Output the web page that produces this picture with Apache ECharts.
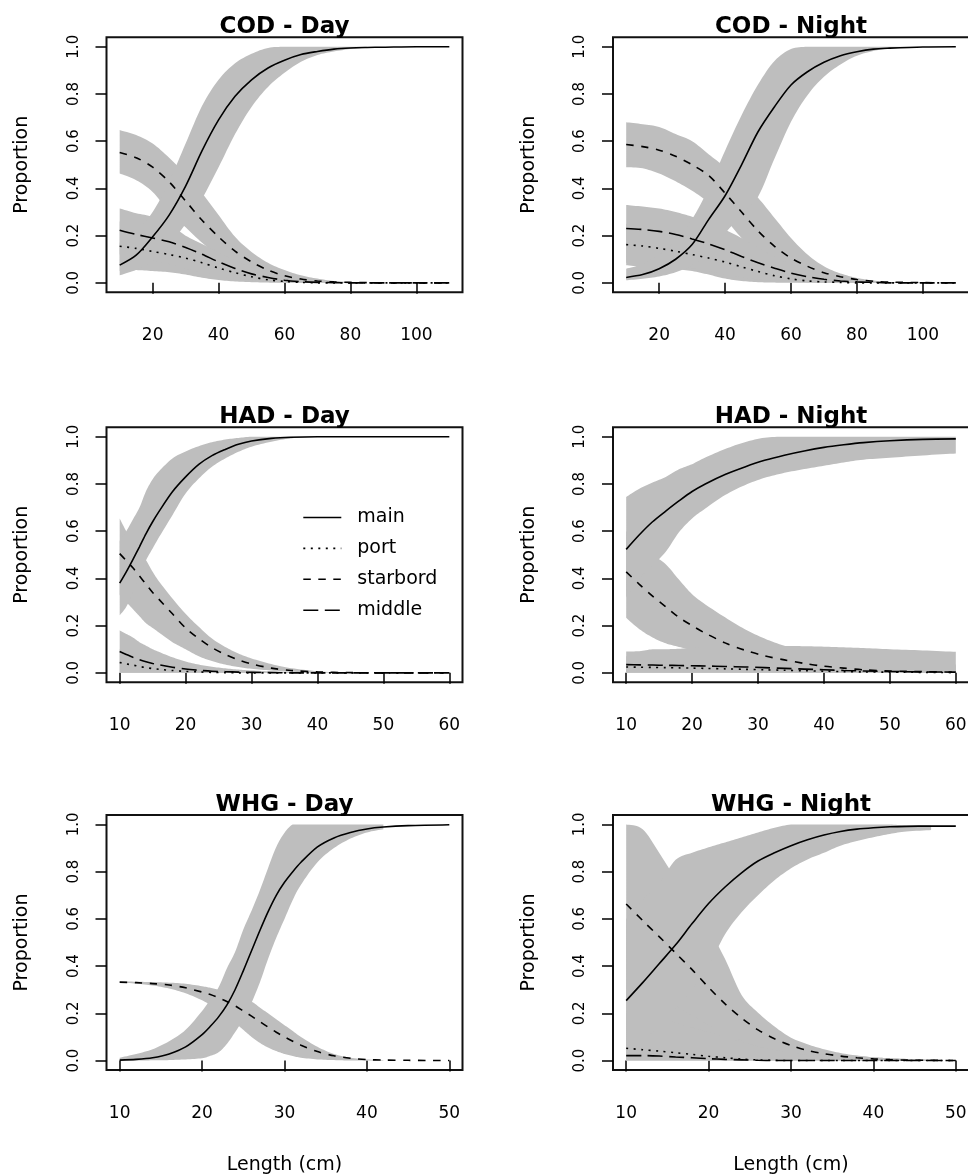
<!DOCTYPE html>
<html><head><meta charset="utf-8">
<script src="https://cdn.jsdelivr.net/npm/echarts@6/dist/echarts.min.js"></script>
<style>html,body{margin:0;padding:0;background:#fff}#c{width:968px;height:1176px}</style>
</head><body><div id="c"></div>
<script>
// ---------- tick labels ----------
const propTicks = [0, 0.2, 0.4, 0.6, 0.8, 1.0];
const codTicks = [20, 40, 60, 80, 100];
const hadTicks = [10, 20, 30, 40, 50, 60];
const whgTicks = [10, 20, 30, 40, 50];
const legendNames = ['main', 'port', 'starbord', 'middle'];
const titles = ['COD - Day', 'COD - Night', 'HAD - Day', 'HAD - Night', 'WHG - Day', 'WHG - Night'];

// ---------- COD ----------
const codX = [10,15,20,25,30,35,40,45,50,55,60,65,70,75,80,85,90,100,110];
const codDayMain = [0.075,0.117,0.195,0.287,0.41,0.56,0.69,0.79,0.86,0.91,0.943,0.967,0.98,0.99,0.995,0.997,0.998,1.0,1.0];
const codDayPort = [0.155,0.146,0.133,0.12,0.105,0.085,0.063,0.043,0.026,0.013,0.006,0.002,0,0,0,0,0,0,0];
const codDayStar = [0.552,0.53,0.49,0.428,0.347,0.265,0.195,0.134,0.089,0.054,0.03,0.016,0.008,0.004,0.002,0.001,0,0,0];
const codDayMid  = [0.223,0.205,0.19,0.174,0.15,0.121,0.089,0.061,0.038,0.023,0.011,0.005,0.002,0.001,0,0,0,0,0];
const codDayBandX = [10,15,20,25,30,35,40,45,50,55,60,65,70,75,80,85];
const codDayMainLo = [0.032,0.055,0.09,0.16,0.25,0.357,0.49,0.63,0.745,0.83,0.89,0.936,0.965,0.98,0.99,0.996];
const codDayMainHi = [0.17,0.22,0.3,0.43,0.59,0.75,0.86,0.93,0.97,0.995,1,1,1,1,1,1];
const codDayPortLo = [0.05,0.054,0.05,0.045,0.035,0.022,0.012,0.006,0.003,0.001,0,0,0,0,0,0];
const codDayPortHi = [0.26,0.25,0.23,0.21,0.18,0.15,0.115,0.08,0.05,0.03,0.015,0.007,0.003,0.001,0,0];
const codDayStarLo = [0.463,0.435,0.385,0.30,0.235,0.17,0.115,0.075,0.045,0.025,0.012,0.005,0.002,0,0,0];
const codDayStarHi = [0.647,0.626,0.59,0.53,0.46,0.38,0.287,0.195,0.131,0.085,0.054,0.032,0.018,0.008,0.004,0.002];
const codDayMidLo  = [0.12,0.11,0.095,0.08,0.06,0.045,0.03,0.018,0.01,0.005,0.002,0,0,0,0,0];
const codDayMidHi  = [0.315,0.295,0.28,0.25,0.2,0.165,0.13,0.095,0.065,0.04,0.022,0.012,0.006,0.003,0.001,0];

const codNightMain = [0.023,0.035,0.06,0.10,0.162,0.268,0.369,0.5,0.64,0.746,0.838,0.894,0.934,0.962,0.979,0.99,0.994,0.999,1.0];
const codNightPort = [0.162,0.156,0.146,0.134,0.12,0.105,0.088,0.068,0.048,0.03,0.017,0.008,0.004,0.002,0,0,0,0,0];
const codNightStar = [0.586,0.577,0.562,0.536,0.50,0.455,0.38,0.30,0.22,0.155,0.105,0.07,0.043,0.026,0.014,0.007,0.003,0.001,0];
const codNightMid  = [0.23,0.226,0.218,0.205,0.186,0.165,0.14,0.112,0.085,0.062,0.041,0.026,0.015,0.008,0.004,0.002,0,0,0];
const codNightBandX = [10,15,20,25,30,35,40,45,50,55,60,65,70,75,80,85,90,100];
const codNightMainLo = [0.011,0.017,0.027,0.045,0.075,0.13,0.21,0.29,0.365,0.527,0.682,0.795,0.873,0.925,0.962,0.982,0.993,1.0];
const codNightMainHi = [0.06,0.08,0.12,0.18,0.27,0.4,0.56,0.71,0.84,0.94,0.99,1,1,1,1,1,1,1];
const codNightPortLo = [0.075,0.068,0.062,0.058,0.05,0.035,0.018,0.008,0.003,0.001,0,0,0,0,0,0,0,0];
const codNightPortHi = [0.25,0.245,0.235,0.22,0.2,0.18,0.155,0.125,0.095,0.065,0.04,0.022,0.012,0.006,0.003,0.001,0,0];
const codNightStarLo = [0.49,0.485,0.463,0.43,0.39,0.34,0.27,0.19,0.12,0.07,0.04,0.02,0.01,0.005,0.002,0,0,0];
const codNightStarHi = [0.68,0.672,0.66,0.63,0.6,0.545,0.49,0.43,0.36,0.275,0.19,0.12,0.07,0.04,0.021,0.01,0.004,0.001];
const codNightMidLo  = [0.085,0.08,0.075,0.07,0.062,0.05,0.036,0.024,0.014,0.008,0.004,0.002,0,0,0,0,0,0];
const codNightMidHi  = [0.33,0.323,0.315,0.3,0.28,0.255,0.225,0.19,0.15,0.11,0.08,0.055,0.035,0.02,0.012,0.006,0.003,0.001];

// ---------- HAD ----------
const hadDayX = [10,11,12,13,14,15,16,18,20,22,24,26,28,30,33,36,40,45,50,55,60];
const hadDayMain = [0.38,0.428,0.48,0.534,0.59,0.64,0.685,0.767,0.83,0.883,0.92,0.946,0.968,0.982,0.993,0.998,1,1,1,1,1];
const hadDayPort = [0.044,0.038,0.033,0.027,0.022,0.018,0.015,0.01,0.006,0.004,0.002,0.001,0,0,0,0,0,0,0,0,0];
const hadDayStar = [0.505,0.475,0.445,0.41,0.375,0.34,0.31,0.25,0.19,0.145,0.107,0.078,0.055,0.038,0.02,0.01,0.004,0.001,0,0,0];
const hadDayMid  = [0.09,0.078,0.066,0.056,0.047,0.04,0.034,0.024,0.016,0.011,0.007,0.005,0.003,0.002,0.001,0,0,0,0,0,0];
const hadDayBandX = [10,11,12,13,14,15,16,18,20,22,24,26,28,30,33,36,40,44];
const hadDayMainLo = [0.244,0.28,0.34,0.41,0.477,0.527,0.576,0.668,0.76,0.823,0.873,0.908,0.936,0.958,0.979,0.993,0.999,1];
const hadDayMainHi = [0.56,0.6,0.65,0.7,0.77,0.82,0.855,0.908,0.938,0.96,0.977,0.988,0.995,1,1,1,1,1];
const hadDayPortLo = [0,0,0,0,0,0,0,0,0,0,0,0,0,0,0,0,0,0];
const hadDayPortHi = [0.1,0.09,0.08,0.07,0.06,0.05,0.043,0.032,0.022,0.015,0.01,0.007,0.005,0.003,0.002,0.001,0,0];
const hadDayStarLo = [0.33,0.3,0.27,0.24,0.21,0.19,0.17,0.13,0.1,0.07,0.05,0.035,0.025,0.017,0.01,0.005,0.002,0];
const hadDayStarHi = [0.654,0.6,0.56,0.52,0.477,0.428,0.386,0.315,0.25,0.195,0.145,0.11,0.082,0.061,0.037,0.02,0.007,0.001];
const hadDayMidLo  = [0,0,0,0,0,0,0,0,0,0,0,0,0,0,0,0,0,0];
const hadDayMidHi  = [0.18,0.165,0.15,0.13,0.115,0.1,0.088,0.066,0.048,0.035,0.026,0.019,0.014,0.01,0.006,0.004,0.002,0];

const hadNightX = [10,12,14,16,18,20,22,25,28,31,34,37,40,43,46,50,55,60];
const hadNightMain = [0.523,0.585,0.64,0.685,0.728,0.768,0.8,0.84,0.872,0.9,0.922,0.94,0.955,0.966,0.975,0.983,0.989,0.991];
const hadNightPort = [0.025,0.024,0.023,0.022,0.021,0.02,0.019,0.017,0.015,0.013,0.011,0.009,0.007,0.005,0.004,0.003,0.002,0.001];
const hadNightStar = [0.428,0.375,0.325,0.28,0.235,0.2,0.168,0.127,0.096,0.072,0.055,0.04,0.028,0.02,0.013,0.008,0.005,0.003];
const hadNightMid  = [0.035,0.034,0.033,0.032,0.031,0.03,0.029,0.027,0.025,0.022,0.019,0.016,0.013,0.01,0.008,0.006,0.004,0.003];
const hadNightMainLo = [0.32,0.4,0.455,0.513,0.595,0.654,0.696,0.753,0.795,0.826,0.847,0.863,0.877,0.891,0.903,0.911,0.921,0.929];
const hadNightMainHi = [0.745,0.78,0.806,0.83,0.862,0.884,0.912,0.948,0.977,0.996,1,1,1,1,1,1,1,1];
const hadNightPortLo = [0,0,0,0,0,0,0,0,0,0,0,0,0,0,0,0,0,0];
const hadNightPortHi = [0.07,0.07,0.07,0.07,0.068,0.066,0.064,0.06,0.056,0.052,0.048,0.045,0.042,0.04,0.038,0.035,0.032,0.03];
const hadNightStarLo = [0.233,0.185,0.15,0.125,0.11,0.095,0.08,0.062,0.047,0.035,0.025,0.018,0.012,0.008,0.005,0.003,0.001,0];
const hadNightStarHi = [0.6,0.55,0.5,0.46,0.395,0.333,0.29,0.235,0.185,0.145,0.115,0.095,0.08,0.07,0.06,0.05,0.04,0.035];
const hadNightMidLo  = [0,0,0,0,0,0,0,0,0,0,0,0,0,0,0,0,0,0];
const hadNightMidHi  = [0.09,0.092,0.1,0.1,0.102,0.105,0.108,0.11,0.112,0.114,0.114,0.113,0.111,0.108,0.105,0.1,0.095,0.089];

// ---------- WHG ----------
const whgDayX = [10,12,14,16,18,20,21,22,23,24,25,26,27,28,29,30,31,32,34,36,38,40,42,45,50];
const whgDayMain = [0.002,0.005,0.012,0.028,0.058,0.11,0.145,0.185,0.235,0.3,0.38,0.465,0.55,0.63,0.7,0.755,0.8,0.84,0.905,0.943,0.966,0.981,0.989,0.995,0.999];
const whgDayStar = [0.332,0.33,0.326,0.32,0.308,0.29,0.28,0.266,0.25,0.232,0.21,0.188,0.165,0.142,0.12,0.1,0.082,0.065,0.038,0.02,0.01,0.004,0.002,0.001,0];
const whgDayBandX = [10,12,14,16,18,20,21,22,23,24,25,26,27,28,29,30,31,32,34,36,38,40,42];
const whgDayMainLo = [0,0,0.001,0.002,0.005,0.01,0.02,0.035,0.07,0.12,0.175,0.245,0.33,0.43,0.52,0.6,0.68,0.745,0.84,0.9,0.94,0.966,0.98];
const whgDayMainHi = [0.012,0.028,0.048,0.082,0.13,0.21,0.26,0.31,0.39,0.46,0.555,0.635,0.72,0.815,0.905,0.965,1,1,1,1,1,1,1];
const whgDayStarLo = [0.33,0.326,0.318,0.305,0.285,0.255,0.235,0.21,0.185,0.16,0.13,0.1,0.075,0.055,0.04,0.028,0.019,0.012,0.005,0.002,0,0,0];
const whgDayStarHi = [0.335,0.334,0.332,0.33,0.325,0.315,0.308,0.3,0.29,0.28,0.265,0.25,0.225,0.2,0.175,0.15,0.125,0.1,0.058,0.028,0.012,0.005,0.002];

const whgNightX = [10,12,14,16,18,20,22,24,26,28,30,32,34,36,38,40,42,44,47,50];
const whgNightMain = [0.254,0.33,0.41,0.49,0.58,0.665,0.735,0.795,0.845,0.88,0.91,0.935,0.955,0.97,0.98,0.986,0.99,0.992,0.993,0.993];
const whgNightPort = [0.052,0.046,0.04,0.033,0.026,0.018,0.012,0.006,0.003,0.001,0,0,0,0,0,0,0,0,0,0];
const whgNightStar = [0.663,0.593,0.525,0.455,0.385,0.31,0.24,0.18,0.13,0.092,0.064,0.043,0.029,0.019,0.012,0.007,0.004,0.002,0.001,0];
const whgNightMid  = [0.021,0.021,0.019,0.015,0.012,0.008,0.005,0.003,0.001,0,0,0,0,0,0,0,0,0,0,0];
const whgNightBandX = [10,12,14,16,18,20,22,24,26,28,30,32,34,36,38,40,42,44,47];
const whgNightMainLo = [0.03,0.08,0.15,0.22,0.3,0.4,0.535,0.628,0.7,0.764,0.814,0.852,0.88,0.91,0.93,0.946,0.96,0.97,0.976];
const whgNightMainHi = [0.6,0.68,0.75,0.85,0.88,0.903,0.924,0.945,0.966,0.986,1,1,1,1,1,1,1,0.996,0.995];
const whgNightPortLo = [0,0,0,0,0,0,0,0,0,0,0,0,0,0,0,0,0,0,0];
const whgNightPortHi = [0.3,0.3,0.3,0.28,0.26,0.25,0.21,0.17,0.13,0.1,0.075,0.055,0.04,0.028,0.02,0.014,0.01,0.007,0.004];
const whgNightStarLo = [0.3,0.28,0.26,0.23,0.19,0.15,0.115,0.085,0.06,0.042,0.028,0.019,0.012,0.008,0.005,0.003,0.002,0.001,0];
const whgNightStarHi = [1,0.98,0.88,0.77,0.67,0.56,0.43,0.278,0.203,0.144,0.097,0.069,0.048,0.032,0.021,0.014,0.01,0.007,0.003];
const whgNightMidLo  = [0,0,0,0,0,0,0,0,0,0,0,0,0,0,0,0,0,0,0];
const whgNightMidHi  = [0.2,0.19,0.18,0.16,0.14,0.12,0.1,0.08,0.06,0.045,0.033,0.024,0.017,0.012,0.008,0.006,0.004,0.003,0.002];

// ---------- assemble ----------
const panels = [
  {x: codX, ticks: codTicks, xr: [6, 114],
   lines: {main: codDayMain, port: codDayPort, starbord: codDayStar, middle: codDayMid},
   bx: codDayBandX,
   bands: [[codDayPortLo, codDayPortHi], [codDayStarLo, codDayStarHi], [codDayMidLo, codDayMidHi], [codDayMainLo, codDayMainHi]]},
  {x: codX, ticks: codTicks, xr: [6, 114],
   lines: {main: codNightMain, port: codNightPort, starbord: codNightStar, middle: codNightMid},
   bx: codNightBandX,
   bands: [[codNightPortLo, codNightPortHi], [codNightStarLo, codNightStarHi], [codNightMidLo, codNightMidHi], [codNightMainLo, codNightMainHi]]},
  {x: hadDayX, ticks: hadTicks, xr: [8, 62],
   lines: {main: hadDayMain, port: hadDayPort, starbord: hadDayStar, middle: hadDayMid},
   bx: hadDayBandX,
   bands: [[hadDayPortLo, hadDayPortHi], [hadDayStarLo, hadDayStarHi], [hadDayMidLo, hadDayMidHi], [hadDayMainLo, hadDayMainHi]]},
  {x: hadNightX, ticks: hadTicks, xr: [8, 62],
   lines: {main: hadNightMain, port: hadNightPort, starbord: hadNightStar, middle: hadNightMid},
   bx: hadNightX,
   bands: [[hadNightPortLo, hadNightPortHi], [hadNightStarLo, hadNightStarHi], [hadNightMidLo, hadNightMidHi], [hadNightMainLo, hadNightMainHi]]},
  {x: whgDayX, ticks: whgTicks, xr: [8.4, 51.6],
   lines: {main: whgDayMain, starbord: whgDayStar},
   bx: whgDayBandX,
   bands: [[whgDayStarLo, whgDayStarHi], [whgDayMainLo, whgDayMainHi]]},
  {x: whgNightX, ticks: whgTicks, xr: [8.4, 51.6],
   lines: {main: whgNightMain, port: whgNightPort, starbord: whgNightStar, middle: whgNightMid},
   bx: whgNightBandX,
   bands: [[whgNightPortLo, whgNightPortHi], [whgNightStarLo, whgNightStarHi], [whgNightMidLo, whgNightMidHi], [whgNightMainLo, whgNightMainHi]]}
];

const FONT = 'DejaVu Sans';
const GRID_W = 356, GRID_H = 255;
const colLeft = [106.5, 613];
const rowTop = [37.3, 427.3, 815];
const lineTypes = {main: 'solid', port: [2, 5.5], starbord: [7.5, 7.5], middle: [15, 6.5]};
const GREY = '#bebebe';

// smooth pixel path through points (Catmull-Rom, overshoot clamped), sampled for a polygon
function smoothPts(p) {
  const out = [p[0]];
  for (let k = 0; k < p.length - 1; k++) {
    const p0 = p[k - 1] || p[k], p1 = p[k], p2 = p[k + 1], p3 = p[k + 2] || p2;
    const c1x = p1[0] + (p2[0] - p0[0]) / 6;
    let c1y = p1[1] + (p2[1] - p0[1]) / 6;
    const c2x = p2[0] - (p3[0] - p1[0]) / 6;
    let c2y = p2[1] - (p3[1] - p1[1]) / 6;
    const mn = Math.min(p1[1], p2[1]), mx = Math.max(p1[1], p2[1]);
    c1y = Math.min(mx, Math.max(mn, c1y));
    c2y = Math.min(mx, Math.max(mn, c2y));
    for (let s = 1; s <= 8; s++) {
      const t = s / 8, u = 1 - t;
      out.push([
        u*u*u*p1[0] + 3*u*u*t*c1x + 3*u*t*t*c2x + t*t*t*p2[0],
        u*u*u*p1[1] + 3*u*u*t*c1y + 3*u*t*t*c2y + t*t*t*p2[1]
      ]);
    }
  }
  return out;
}

function bandSeries(i, bx, lo, hi) {
  return {
    type: 'custom', xAxisIndex: i, yAxisIndex: i, silent: true, z: 1,
    data: bx.map((x, j) => [x, lo[j], hi[j]]),
    encode: {x: 0, y: [1, 2]},
    renderItem: function (params, api) {
      if (params.dataIndex !== 0) return null;
      const top = smoothPts(bx.map((x, j) => api.coord([x, hi[j]])));
      const bot = smoothPts(bx.map((x, j) => api.coord([x, lo[j]]))).reverse();
      return {type: 'polygon', shape: {points: top.concat(bot)},
        style: {fill: GREY, stroke: null, lineWidth: 0}};
    }
  };
}

const grid = [], xAxis = [], yAxis = [], title = [], series = [];
panels.forEach((p, i) => {
  const col = i % 2, row = Math.floor(i / 2);
  const left = colLeft[col], top = rowTop[row];
  grid.push({left: left, top: top, width: GRID_W, height: GRID_H, show: true,
    borderColor: '#111', borderWidth: 2, backgroundColor: 'transparent',
    containLabel: false, outerBoundsMode: 'none'});
  title.push({text: titles[i], left: left + GRID_W / 2, top: top - 21.5, textAlign: 'center', padding: 0,
    textStyle: {fontFamily: FONT, fontSize: 23, fontWeight: 'bold', color: '#000'}});
  xAxis.push({type: 'value', gridIndex: i, min: p.xr[0], max: p.xr[1],
    axisLine: {show: false}, splitLine: {show: false},
    axisTick: {show: true, inside: false, length: 11, customValues: p.ticks, lineStyle: {color: '#000', width: 1.5}},
    axisLabel: {show: true, customValues: p.ticks, margin: 35, color: '#000', fontFamily: FONT, fontSize: 17,
      hideOverlap: false},
    name: row === 2 ? 'Length (cm)' : '', nameLocation: 'middle', nameGap: 86, nameMoveOverlap: false,
    nameTextStyle: {fontFamily: FONT, fontSize: 19, color: '#000'}});
  yAxis.push({type: 'value', gridIndex: i, min: -0.04, max: 1.04,
    axisLine: {show: false}, splitLine: {show: false},
    axisTick: {show: true, inside: false, length: 11, customValues: propTicks, lineStyle: {color: '#000', width: 1.5}},
    axisLabel: {show: true, customValues: propTicks, rotate: 90, margin: 25, color: '#000',
      fontFamily: FONT, fontSize: 15, formatter: v => Number(v).toFixed(1)},
    name: 'Proportion', nameLocation: 'middle', nameGap: 74.5, nameRotate: 90, nameMoveOverlap: false,
    nameTextStyle: {fontFamily: FONT, fontSize: 19, color: '#000'}});

  p.bands.forEach(b => series.push(bandSeries(i, p.bx, b[0], b[1])));
  legendNames.forEach(nm => {
    const arr = p.lines[nm];
    if (!arr) return;
    series.push({type: 'line', name: nm, xAxisIndex: i, yAxisIndex: i, symbol: 'none',
      smooth: 0.3, z: 3, lineStyle: {color: '#000', width: 1.6, type: lineTypes[nm]},
      itemStyle: {color: '#000'},
      data: p.x.map((x, j) => [x, arr[j]])});
  });
});

const chart = echarts.init(document.getElementById('c'), null, {renderer: 'canvas'});
chart.setOption({
  backgroundColor: '#fff',
  animation: false,
  title: title,
  grid: grid,
  xAxis: xAxis,
  yAxis: yAxis,
  legend: {data: legendNames, orient: 'vertical', left: 302.5, top: 508, padding: 0,
    itemWidth: 38, itemHeight: 20, itemGap: 11.9,
    lineStyle: {width: 1.6},
    itemStyle: {opacity: 0, color: 'rgba(0,0,0,0)', borderWidth: 0},
    textStyle: {fontFamily: FONT, fontSize: 19, color: '#000', padding: [0, 0, 0, 11]}},
  series: series
});
</script></body></html>
